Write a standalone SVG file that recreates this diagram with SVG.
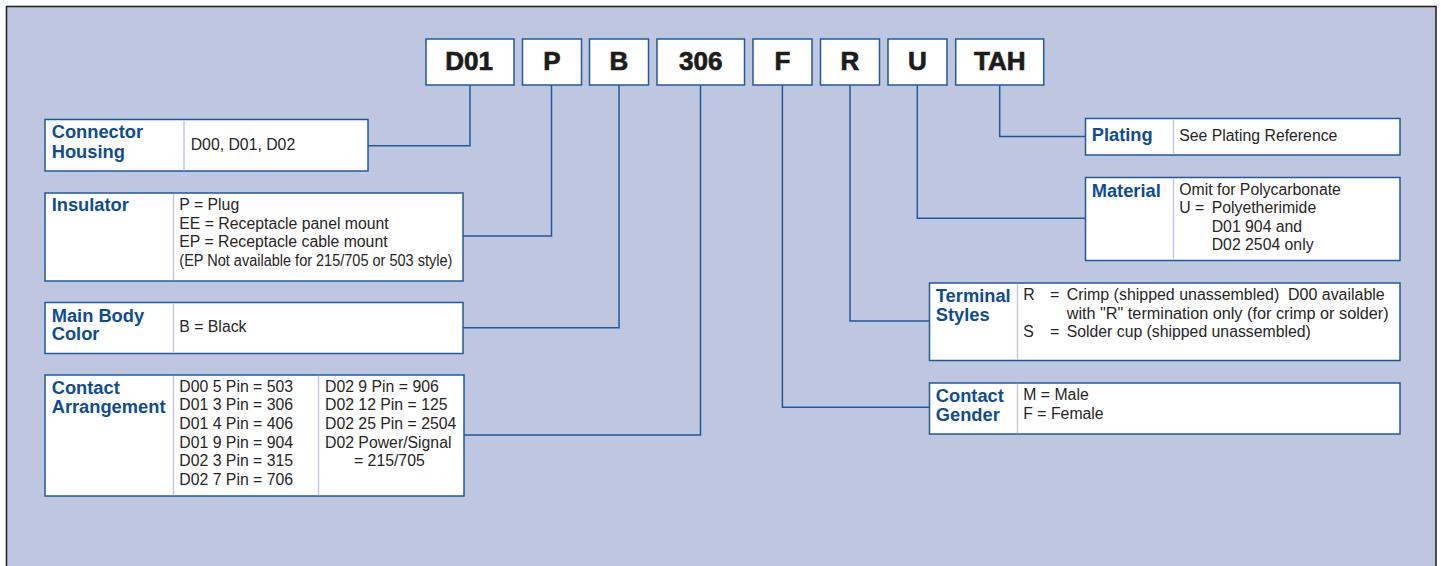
<svg xmlns="http://www.w3.org/2000/svg" width="1441" height="566" viewBox="0 0 1441 566">
  <style>
    .frame { fill: #bfc6df; stroke: #262626; stroke-width: 1.6; }
    .code { fill: #ffffff; stroke: #1f5aa0; stroke-width: 1.5; }
    .codetxt { font-family: "Liberation Sans", Arial, sans-serif; font-weight: bold; font-size: 26px; fill: #1c1c1c; stroke: #1c1c1c; stroke-width: 0.7; text-anchor: middle; }
    .box { fill: #ffffff; stroke: #1f5aa0; stroke-width: 1.5; }
    .div { stroke: #c3c8e3; stroke-width: 1.5; fill: none; }
    .lbl { font-family: "Liberation Sans", Arial, sans-serif; font-weight: bold; font-size: 18.3px; fill: #0e4c94; }
    .val { font-family: "Liberation Sans", Arial, sans-serif; font-size: 15.8px; fill: #262626; }
    .wire { fill: none; stroke: #1f5aa0; stroke-width: 1.5; }
  </style>

  <!-- panel background -->
  <rect class="frame" x="6.5" y="6.5" width="1429.5" height="600"/>

  <!-- part number segments -->
  <g id="code-d01"><rect class="code" x="426" y="39" width="88" height="46"/><text class="codetxt" x="469" y="70">D01</text></g>
  <g id="code-p"><rect class="code" x="522.5" y="39" width="59" height="46"/><text class="codetxt" x="552" y="70">P</text></g>
  <g id="code-b"><rect class="code" x="589.5" y="39" width="59" height="46"/><text class="codetxt" x="619" y="70">B</text></g>
  <g id="code-306"><rect class="code" x="657" y="39" width="87.5" height="46"/><text class="codetxt" x="700.7" y="70">306</text></g>
  <g id="code-f"><rect class="code" x="753" y="39" width="59" height="46"/><text class="codetxt" x="782.5" y="70">F</text></g>
  <g id="code-r"><rect class="code" x="820.5" y="39" width="59" height="46"/><text class="codetxt" x="850" y="70">R</text></g>
  <g id="code-u"><rect class="code" x="888" y="39" width="59" height="46"/><text class="codetxt" x="917.5" y="70">U</text></g>
  <g id="code-tah"><rect class="code" x="955.7" y="39" width="88" height="46"/><text class="codetxt" x="999.7" y="70">TAH</text></g>

  <!-- leader lines -->
  <g id="connectors">
    <path class="wire" d="M470,85 V145.7 H368"/>
    <path class="wire" d="M551.5,85 V236 H463"/>
    <path class="wire" d="M619,85 V327.7 H463"/>
    <path class="wire" d="M700.5,85 V435 H464"/>
    <path class="wire" d="M782.4,85 V407.3 H929.5"/>
    <path class="wire" d="M850,85 V321 H929.5"/>
    <path class="wire" d="M917.3,85 V218.3 H1085.5"/>
    <path class="wire" d="M999.7,85 V136.5 H1085.5"/>
  </g>

  <!-- connector housing -->
  <g id="housing">
    <rect class="box" x="45" y="119.5" width="323" height="51.5"/>
    <line class="div" x1="184" y1="120.3" x2="184" y2="170.2"/>
    <text class="lbl" x="51.7" y="138">Connector</text>
    <text class="lbl" x="51.7" y="157.5">Housing</text>
    <text class="val" x="190.7" y="149.5">D00, D01, D02</text>
  </g>

  <!-- insulator -->
  <g id="insulator">
    <rect class="box" x="45" y="193" width="418" height="88"/>
    <line class="div" x1="173.5" y1="193.8" x2="173.5" y2="280.2"/>
    <text class="lbl" x="51.7" y="211">Insulator</text>
    <text class="val" x="179.3" y="210">P = Plug</text>
    <text class="val" x="179.3" y="228.7">EE = Receptacle panel mount</text>
    <text class="val" x="179.3" y="247.3">EP = Receptacle cable mount</text>
    <text class="val" x="179.3" y="266" textLength="273" lengthAdjust="spacingAndGlyphs">(EP Not available for 215/705 or 503 style)</text>
  </g>

  <!-- main body color -->
  <g id="body-color">
    <rect class="box" x="45" y="302.5" width="418" height="51"/>
    <line class="div" x1="173.5" y1="303.3" x2="173.5" y2="352.7"/>
    <text class="lbl" x="51.7" y="321.5">Main Body</text>
    <text class="lbl" x="51.7" y="340">Color</text>
    <text class="val" x="179.3" y="331.5">B = Black</text>
  </g>

  <!-- contact arrangement -->
  <g id="arrangement">
    <rect class="box" x="45" y="375" width="419" height="121"/>
    <line class="div" x1="173.5" y1="375.8" x2="173.5" y2="495.2"/>
    <line class="div" x1="318.5" y1="375.8" x2="318.5" y2="495.2"/>
    <text class="lbl" x="51.7" y="393.5">Contact</text>
    <text class="lbl" x="51.7" y="412.5">Arrangement</text>
    <text class="val" x="179.3" y="391.7">D00 5 Pin = 503</text>
    <text class="val" x="179.3" y="410.3">D01 3 Pin = 306</text>
    <text class="val" x="179.3" y="429">D01 4 Pin = 406</text>
    <text class="val" x="179.3" y="447.7">D01 9 Pin = 904</text>
    <text class="val" x="179.3" y="466.3">D02 3 Pin = 315</text>
    <text class="val" x="179.3" y="485">D02 7 Pin = 706</text>
    <text class="val" x="325" y="391.7">D02 9 Pin = 906</text>
    <text class="val" x="325" y="410.3">D02 12 Pin = 125</text>
    <text class="val" x="325" y="429">D02 25 Pin = 2504</text>
    <text class="val" x="325" y="447.7">D02 Power/Signal</text>
    <text class="val" x="354" y="466.3">= 215/705</text>
  </g>

  <!-- plating -->
  <g id="plating">
    <rect class="box" x="1085.5" y="118.5" width="314.5" height="36.5"/>
    <line class="div" x1="1173.5" y1="119.3" x2="1173.5" y2="154.2"/>
    <text class="lbl" x="1091.7" y="141">Plating</text>
    <text class="val" x="1179.3" y="140.5">See Plating Reference</text>
  </g>

  <!-- material -->
  <g id="material">
    <rect class="box" x="1085.5" y="177.5" width="314.5" height="83"/>
    <line class="div" x1="1173.5" y1="178.3" x2="1173.5" y2="259.7"/>
    <text class="lbl" x="1091.7" y="196.5">Material</text>
    <text class="val" x="1179.3" y="195">Omit for Polycarbonate</text>
    <text class="val" x="1179.3" y="213.3">U =</text>
    <text class="val" x="1211.7" y="213.3">Polyetherimide</text>
    <text class="val" x="1211.7" y="231.7">D01 904 and</text>
    <text class="val" x="1211.7" y="250">D02 2504 only</text>
  </g>

  <!-- terminal styles -->
  <g id="terminal">
    <rect class="box" x="929.5" y="283" width="470.5" height="77.5"/>
    <line class="div" x1="1017.5" y1="283.8" x2="1017.5" y2="359.7"/>
    <text class="lbl" x="935.8" y="301.5">Terminal</text>
    <text class="lbl" x="935.8" y="320.5">Styles</text>
    <text class="val" x="1023.3" y="300">R</text>
    <text class="val" x="1050" y="300">=</text>
    <text class="val" x="1066.7" y="300" textLength="318" lengthAdjust="spacingAndGlyphs" style="white-space:pre">Crimp (shipped unassembled)  D00 available</text>
    <text class="val" x="1066.7" y="318.5" textLength="322" lengthAdjust="spacingAndGlyphs">with "R" termination only (for crimp or solder)</text>
    <text class="val" x="1023.3" y="337">S</text>
    <text class="val" x="1050" y="337">=</text>
    <text class="val" x="1066.7" y="337">Solder cup (shipped unassembled)</text>
  </g>

  <!-- contact gender -->
  <g id="gender">
    <rect class="box" x="929.5" y="383" width="470.5" height="51"/>
    <line class="div" x1="1017.5" y1="383.8" x2="1017.5" y2="433.2"/>
    <text class="lbl" x="935.8" y="401.5">Contact</text>
    <text class="lbl" x="935.8" y="420.5">Gender</text>
    <text class="val" x="1023.3" y="400">M = Male</text>
    <text class="val" x="1023.3" y="418.5">F = Female</text>
  </g>
</svg>
